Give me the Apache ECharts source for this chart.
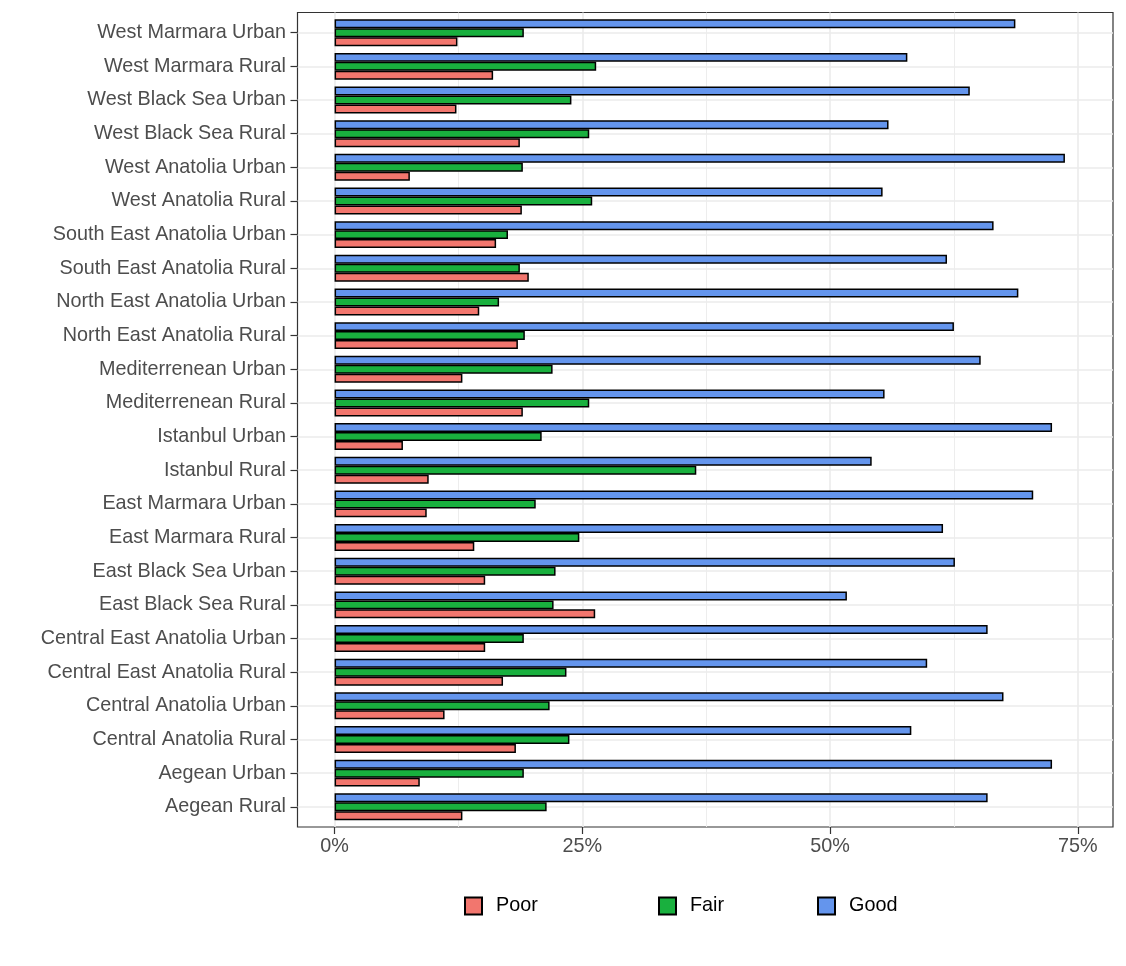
<!DOCTYPE html>
<html>
<head>
<meta charset="utf-8">
<script src="https://cdn.jsdelivr.net/npm/echarts@6/dist/echarts.min.js"></script>
<style>
html,body{margin:0;padding:0;background:#fff;}
#chart{width:1126px;height:966px;}
</style>
</head>
<body>
<div id="chart"></div>
<script>
const categories = [
  "West Marmara Urban","West Marmara Rural","West Black Sea Urban","West Black Sea Rural",
  "West Anatolia Urban","West Anatolia Rural","South East Anatolia Urban","South East Anatolia Rural",
  "North East Anatolia Urban","North East Anatolia Rural","Mediterrenean Urban","Mediterrenean Rural",
  "Istanbul Urban","Istanbul Rural","East Marmara Urban","East Marmara Rural",
  "East Black Sea Urban","East Black Sea Rural","Central East Anatolia Urban","Central East Anatolia Rural",
  "Central Anatolia Urban","Central Anatolia Rural","Aegean Urban","Aegean Rural"
];
const poor = [12.4,16.0,12.3,18.7,7.6,18.9,16.3,19.6,14.6,18.5,12.9,19.0,6.9,9.5,9.3,14.1,15.2,26.3,15.2,17.0,11.1,18.3,8.6,12.9];
const fair = [19.1,26.4,23.9,25.7,19.0,26.0,17.5,18.7,16.6,19.2,22.0,25.7,20.9,36.5,20.3,24.7,22.3,22.1,19.1,23.4,21.7,23.7,19.1,21.4];
const good = [68.7,57.8,64.1,55.9,73.7,55.3,66.5,61.8,69.0,62.5,65.2,55.5,72.4,54.2,70.5,61.4,62.6,51.7,65.9,59.8,67.5,58.2,72.4,65.9];
const majorTicks = [0,25,50,75];
const minorTicks = [12.5,37.5,62.5];
const seriesNames = ["Poor","Fair","Good"];

const FONT = "'Liberation Sans', Arial, sans-serif";
const X_MIN = -3.74, X_MAX = 78.55;
const colors = {Poor:'#F2766E', Fair:'#19B03E', Good:'#6495ED'};

// panel geometry
const panel = {left:297.5, right:13, top:12.5, bottom:139};
const unit = (966 - panel.top - panel.bottom) / 24.2;
const inset = unit * 0.1;

const chart = echarts.init(document.getElementById('chart'), null, {renderer:'canvas'});

function barSeries(name, data){
  return {
    name: name, type:'bar', xAxisIndex:0, yAxisIndex:0, data:data,
    barCategoryGap:'20%', barGap:'0%',
    itemStyle:{color:colors[name], borderColor:'#000', borderWidth:1.5},
    emphasis:{disabled:true}, z:3
  };
}

const legendPos = [464, 658, 817];
const legends = seriesNames.map((n,i)=>({
  data:[n], left:legendPos[i], top:896, orient:'horizontal', padding:0,
  itemWidth:17, itemHeight:17, icon:'rect', selectedMode:false,
  textStyle:{fontFamily:FONT, fontSize:19.8, color:'#000', padding:[0,0,0,9]}
}));

chart.setOption({
  animation:false,
  backgroundColor:'#fff',
  legend: legends,
  grid:[
    {left:panel.left, right:panel.right, top:panel.top+inset, bottom:panel.bottom+inset, containLabel:false, show:false},
    {left:panel.left, right:panel.right, top:panel.top, bottom:panel.bottom, containLabel:false, show:true, borderColor:'#333333', borderWidth:1.2, backgroundColor:'transparent', z:0}
  ],
  xAxis:[
    {gridIndex:0, type:'value', min:X_MIN, max:X_MAX, show:false},
    {gridIndex:1, type:'value', min:X_MIN, max:X_MAX, position:'bottom',
      axisLine:{show:false, onZero:false},
      axisTick:{show:true, length:7, lineStyle:{color:'#333333', width:1.2}, customValues:majorTicks},
      axisLabel:{show:true, margin:10, customValues:majorTicks, formatter:v=>v+'%', fontFamily:FONT, fontSize:19.8, color:'#4D4D4D'},
      splitLine:{show:true, lineStyle:{color:'#EBEBEB', width:1.6}}
    },
    {gridIndex:1, type:'value', min:X_MIN, max:X_MAX, position:'bottom',
      axisLine:{show:false, onZero:false},
      axisTick:{show:false, customValues:minorTicks},
      axisLabel:{show:false, customValues:minorTicks},
      splitLine:{show:true, lineStyle:{color:'#EBEBEB', width:0.9}}
    }
  ],
  yAxis:[
    {gridIndex:0, type:'category', data:categories, inverse:true, position:'left',
      axisLine:{show:false, onZero:false},
      axisTick:{show:true, alignWithLabel:true, length:7, lineStyle:{color:'#333333', width:1.2}},
      axisLabel:{show:true, margin:11.5, fontFamily:FONT, fontSize:19.8, color:'#4D4D4D', interval:0},
      splitLine:{show:true, alignWithLabel:true, interval:0, lineStyle:{color:'#EBEBEB', width:1.6}}
    },
    {gridIndex:1, type:'value', min:0, max:1, show:false}
  ],
  series:[
    barSeries('Good', good),
    barSeries('Fair', fair),
    barSeries('Poor', poor)
  ]
});
</script>
</body>
</html>
